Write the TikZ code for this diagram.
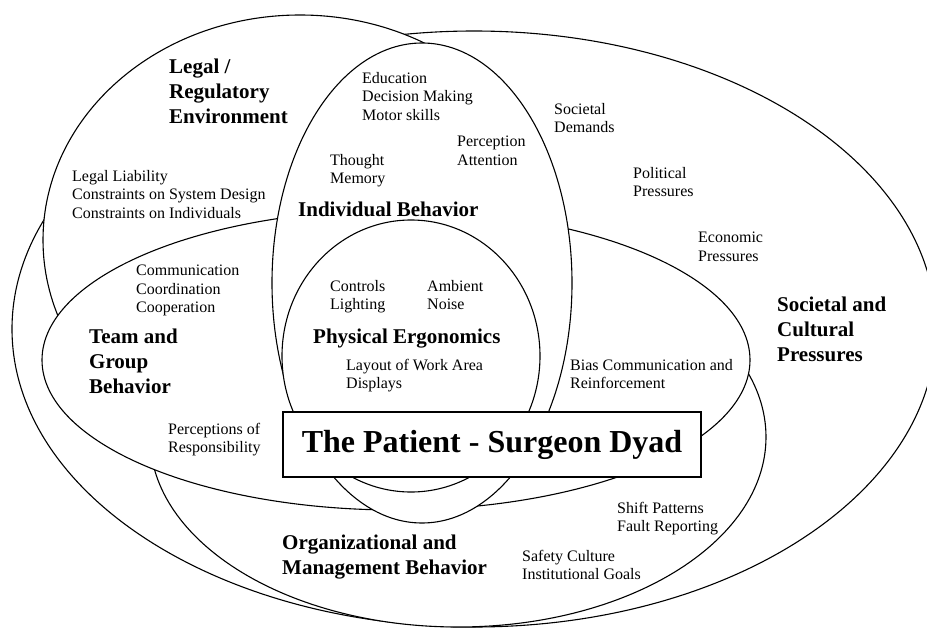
\documentclass[tikz,border=0pt]{standalone}
\usepackage{fontspec}
\setmainfont{Liberation Serif}

\begin{document}
\begin{tikzpicture}[x=1pt,y=-1pt,
  zone/.style={draw,fill=white,line width=1.1pt},
  item/.style={anchor=north west,inner sep=0pt,align=left,font=\fontsize{16}{18.5}\selectfont},
  title/.style={anchor=north west,inner sep=0pt,align=left,font=\fontsize{21}{25}\selectfont\bfseries}]
  \useasboundingbox (0,0) rectangle (927,629);
  \clip (0,0) rectangle (927,629);
  % spheres of influence, drawn back to front
  \draw[zone] (474,329) ellipse [x radius=462pt,y radius=298pt];
  \draw[zone] (300,240) ellipse [x radius=257pt,y radius=225pt];
  \draw[zone] (458,437) ellipse [x radius=308pt,y radius=190pt];
  \draw[zone] (396,360) ellipse [x radius=354pt,y radius=150pt];
  \draw[zone] (422,283) ellipse [x radius=150pt,y radius=240pt];
  \draw[zone] (411,356) ellipse [x radius=129pt,y radius=136pt];
  \node[zone,minimum width=418pt,minimum height=65pt,inner sep=0pt,
        font=\fontsize{32}{36}\selectfont\bfseries] (dyad) at (492,444.5) {The Patient - Surgeon Dyad};

  \node[title] (legal) at (169,59) {Legal /\\Regulatory\\Environment};
  \node[title] (indiv) at (298,202) {Individual Behavior};
  \node[title] (phys) at (313,329) {Physical Ergonomics};
  \node[title] (team) at (89,329) {Team and\\Group\\Behavior};
  \node[title] (org) at (282,535) {Organizational and\\Management Behavior};
  \node[title] (soc) at (777,297) {Societal and\\Cultural\\Pressures};

  \node[item] (educ) at (362,72) {Education\\Decision Making\\Motor skills};
  \node[item] (percep) at (457,136) {Perception\\Attention};
  \node[item] (thought) at (330,154) {Thought\\Memory};
  \node[item] (demands) at (554,103) {Societal\\Demands};
  \node[item] (politic) at (633,167) {Political\\Pressures};
  \node[item] (econ) at (698,232) {Economic\\Pressures};
  \node[item] (liab) at (72,170) {Legal Liability\\Constraints on System Design\\Constraints on Individuals};
  \node[item] (comm) at (136,265) {Communication\\Coordination\\Cooperation};
  \node[item] (ctrl) at (330,280) {Controls\\Lighting};
  \node[item] (noise) at (427,280) {Ambient\\Noise};
  \node[item] (layout) at (346,359) {Layout of Work Area\\Displays};
  \node[item] (bias) at (570,359) {Bias Communication and\\Reinforcement};
  \node[item] (resp) at (168,423) {Perceptions of\\Responsibility};
  \node[item] (shift) at (617,502) {Shift Patterns\\Fault Reporting};
  \node[item] (safety) at (522,550) {Safety Culture\\Institutional Goals};
\end{tikzpicture}
\end{document}
